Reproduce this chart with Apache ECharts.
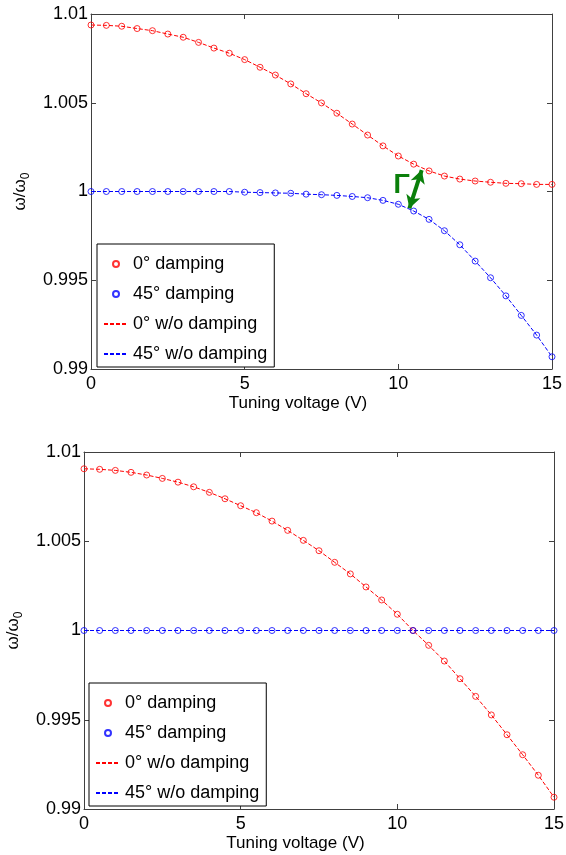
<!DOCTYPE html>
<html>
<head>
<meta charset="utf-8">
<script src="https://cdn.jsdelivr.net/npm/echarts@6/dist/echarts.min.js"></script>
<style>
html, body { margin: 0; padding: 0; background: #fff; }
#chart { width: 566px; height: 855px; }
</style>
</head>
<body>
<div id="chart"></div>
<script>
// tuning voltage samples (V)
const volts = [0, 0.5, 1, 1.5, 2, 2.5, 3, 3.5, 4, 4.5, 5, 5.5, 6, 6.5, 7, 7.5,
    8, 8.5, 9, 9.5, 10, 10.5, 11, 11.5, 12, 12.5, 13, 13.5, 14, 14.5, 15];

// upper panel: normalized frequency w/w0
const topRed = [1.00938, 1.00936, 1.00931, 1.00918, 1.00906, 1.00887, 1.00869, 1.00840,
    1.00808, 1.00779, 1.00743, 1.00700, 1.00656, 1.00606, 1.00551, 1.00499,
    1.00441, 1.00380, 1.00318, 1.00257, 1.00200, 1.00154, 1.00116, 1.00087,
    1.00070, 1.00059, 1.00052, 1.00046, 1.00044, 1.00040, 1.00040];
const topBlue = [1, 1, 1, 1, 1, 1, 1, 1, 1, 1, 0.99996, 0.99994, 0.99992, 0.99990,
    0.99985, 0.99982, 0.99978, 0.99972, 0.99965, 0.99950, 0.99928, 0.99890,
    0.99843, 0.99779, 0.99700, 0.99608, 0.99514, 0.99412, 0.99302, 0.99191, 0.99069];

// lower panel
const bottomRed = [1.00906, 1.00903, 1.00897, 1.00886, 1.00871, 1.00852, 1.00831, 1.00805,
    1.00774, 1.00738, 1.00699, 1.00660, 1.00613, 1.00561, 1.00505, 1.00447,
    1.00382, 1.00317, 1.00244, 1.00171, 1.00091, 1.00000, 0.99917, 0.99829,
    0.99730, 0.99631, 0.99527, 0.99416, 0.99304, 0.99189, 0.99066];
const bottomBlue = [1, 1, 1, 1, 1, 1, 1, 1, 1, 1, 1, 1, 1, 1, 1, 1,
    1, 1, 1, 1, 1, 1, 1, 1, 1, 1, 1, 1, 1, 1, 1];

const names = ['0° damping', '45° damping', '0° w/o damping', '45° w/o damping'];

// linewidth annotation (upper panel), in data coords
const gammaArrow = [[10.76, 1.00121], [10.36, 0.99905]];
const gammaLabelAt = [10.11, 1.00031];

const FONT = 'Liberation Sans, Arial, sans-serif';
const AXIS = '#404040';
const RED = '#ff0000';
const BLUE = '#0000ff';
const GREEN = '#0b800b';
const NONE = 'rgba(0,0,0,0)';

function pairs(ys) {
    return volts.map((v, i) => [v, ys[i]]);
}

// box frame: every side is an axis, ticks point inward
function frameAxis(extra) {
    return Object.assign({
        type: 'value',
        splitLine: { show: false },
        axisLine: { show: true, onZero: false, lineStyle: { color: AXIS } },
        axisTick: { show: true, inside: true, length: 5, lineStyle: { color: AXIS } }
    }, extra);
}

function xAxes(gi) {
    const range = { gridIndex: gi, min: 0, max: 15, interval: 5 };
    return [
        frameAxis(Object.assign({
            position: 'bottom',
            axisLabel: { color: '#000', fontSize: 18, fontFamily: FONT, margin: 6 },
            name: 'Tuning voltage (V)',
            nameLocation: 'middle',
            nameGap: 26,
            nameTextStyle: { color: '#000', fontSize: 17, fontFamily: FONT, padding: [0, 47, 0, 0] }
        }, range)),
        frameAxis(Object.assign({ position: 'top', axisLabel: { show: false } }, range))
    ];
}

function yAxes(gi) {
    const range = { gridIndex: gi, min: 0.99, max: 1.01, interval: 0.005 };
    return [
        frameAxis(Object.assign({
            position: 'left',
            axisLabel: { color: '#000', fontSize: 18, fontFamily: FONT, margin: 3 },
            name: 'ω/ω{sub|0}',
            nameLocation: 'middle',
            nameGap: 47,
            nameTextStyle: {
                color: '#000', fontSize: 17, fontFamily: FONT, lineHeight: 24,
                rich: { sub: { fontSize: 12, fontFamily: FONT, verticalAlign: 'bottom', lineHeight: 12 } }
            }
        }, range)),
        frameAxis(Object.assign({ position: 'right', axisLabel: { show: false } }, range))
    ];
}

function panelSeries(gi, red, blue) {
    const ax = { xAxisIndex: gi * 2, yAxisIndex: gi * 2 };
    const dots = (name, ys, c) => Object.assign({
        name: name, type: 'scatter', data: pairs(ys), z: 3,
        symbol: 'circle', symbolSize: 6,
        itemStyle: { color: NONE, borderColor: c, borderWidth: 1 }
    }, ax);
    // itemStyle transparent so the legend shows only the dashed line
    const dashed = (name, ys, c) => Object.assign({
        name: name, type: 'line', data: pairs(ys), z: 2,
        symbol: 'none', itemStyle: { color: NONE },
        lineStyle: { color: c, width: 1, type: [4, 2] }
    }, ax);
    return [
        dots(names[0], red, RED),
        dots(names[1], blue, BLUE),
        dashed(names[2], red, RED),
        dashed(names[3], blue, BLUE)
    ];
}

function legendAt(left, top) {
    return {
        left: left, top: top, orient: 'vertical', data: names,
        selectedMode: false,
        itemWidth: 24, itemHeight: 6, itemGap: 10,
        padding: [10, 7, 3, 6],
        borderColor: '#000', borderWidth: 1, backgroundColor: '#fff',
        textStyle: { color: '#000', fontSize: 18, fontFamily: FONT, lineHeight: 20 }
    };
}

const series = panelSeries(0, topRed, topBlue).concat(panelSeries(1, bottomRed, bottomBlue));

// Γ arrow and label ride on the upper 0° line
series[2].markLine = {
    silent: true,
    animation: false,
    symbol: ['arrow', 'arrow'],
    symbolSize: [11, 13],
    lineStyle: { color: GREEN, width: 4, type: 'solid' },
    label: { show: false },
    data: [[{ coord: gammaArrow[0] }, { coord: gammaArrow[1] }]]
};
series[2].markPoint = {
    silent: true,
    animation: false,
    symbol: 'circle',
    symbolSize: 1,
    itemStyle: { color: NONE },
    label: { show: true, position: 'inside', formatter: 'Γ', color: GREEN, fontSize: 27, fontWeight: 'bold', fontFamily: FONT },
    data: [{ coord: gammaLabelAt }]
};

const option = {
    animation: false,
    backgroundColor: '#fff',
    grid: [
        { left: 91, top: 14, right: 14, bottom: 486, outerBoundsMode: 'none' },
        { left: 84, top: 452, right: 12, bottom: 46, outerBoundsMode: 'none' }
    ],
    xAxis: xAxes(0).concat(xAxes(1)),
    yAxis: yAxes(0).concat(yAxes(1)),
    legend: [legendAt(97, 244), legendAt(89, 683)],
    series: series
};

const chart = echarts.init(document.getElementById('chart'));
chart.setOption(option);
</script>
</body>
</html>
